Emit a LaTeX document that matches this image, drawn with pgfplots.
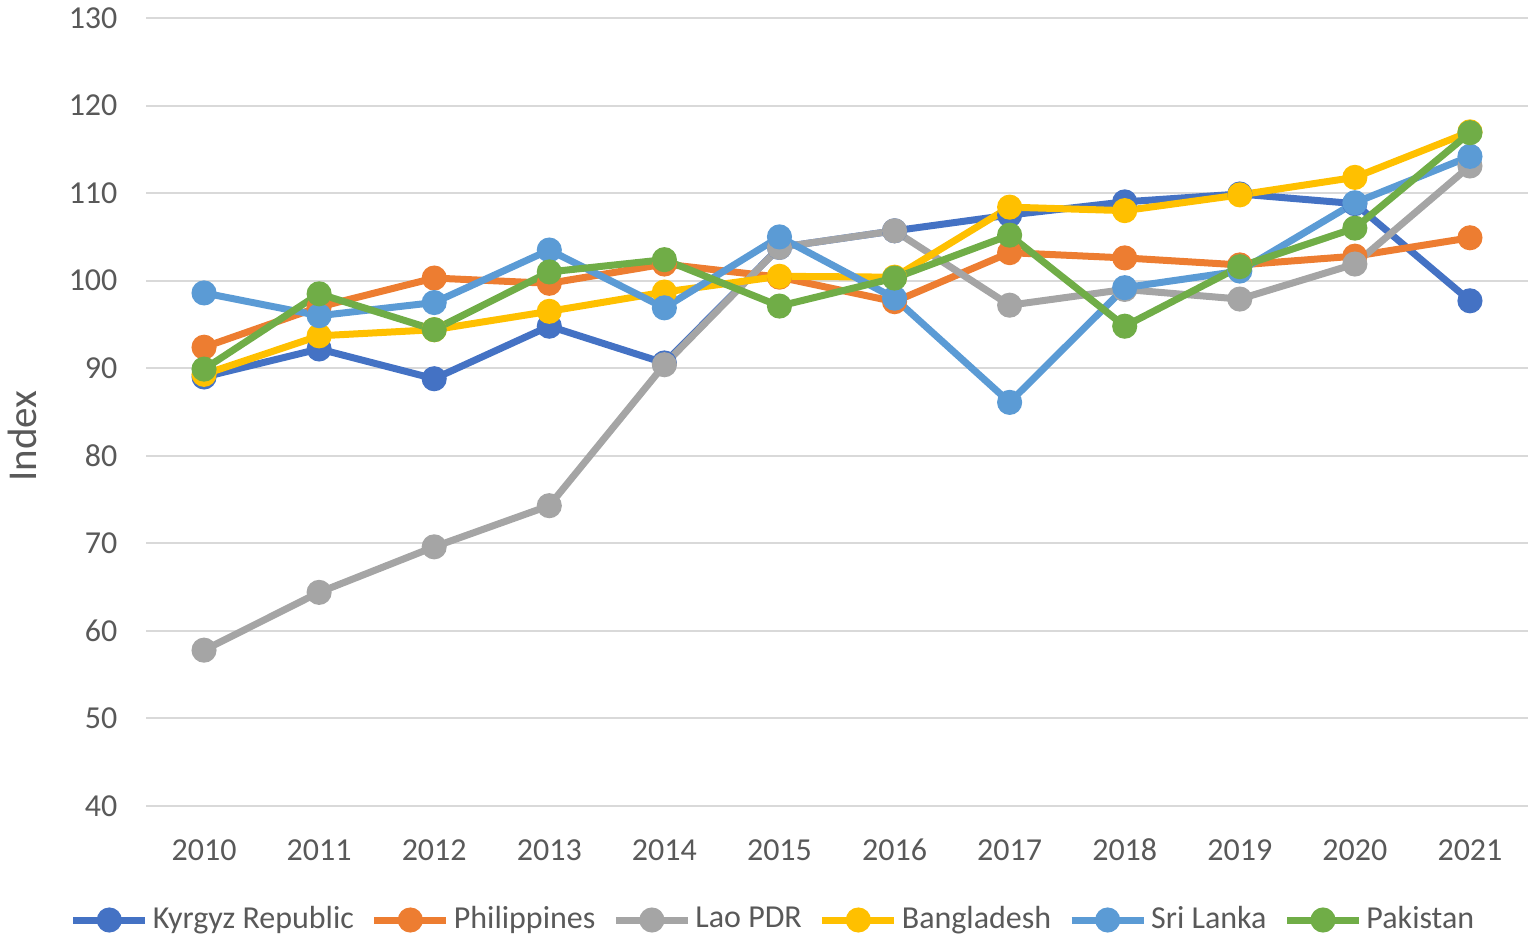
\documentclass[border=0pt]{standalone}
\usepackage{pgfplots}
\pgfplotsset{compat=1.18}
\usepackage{fontspec}
\setmainfont{Carlito}
\definecolor{cK}{HTML}{4472C4}
\definecolor{cP}{HTML}{ED7D31}
\definecolor{cL}{HTML}{A5A5A5}
\definecolor{cB}{HTML}{FFC000}
\definecolor{cS}{HTML}{5B9BD5}
\definecolor{cPk}{HTML}{70AD47}
\definecolor{txt}{HTML}{595959}
\definecolor{grid}{HTML}{D9D9D9}
\begin{document}
\fontsize{16bp}{19bp}\selectfont
\begin{tikzpicture}
\useasboundingbox (-73.25bp,-67bp) rectangle (694.75bp,403bp);
\begin{axis}[
  at={(0,0)}, anchor=south west,
  scale only axis, width=690.5bp, height=394bp,
  xmin=-0.5, xmax=11.5, ymin=40, ymax=130,
  xtick={0,...,11},
  xticklabels={2010,2011,2012,2013,2014,2015,2016,2017,2018,2019,2020,2021},
  ytick={40,50,...,130},
  axis line style={draw=none},
  major tick length=0pt,
  ymajorgrids, grid style={draw=grid, line width=1bp},
  ticklabel style={font=\fontsize{16bp}{19bp}\selectfont, text=txt},
  /pgf/number format/assume math mode=true,
  yticklabel style={xshift=-9bp},
  xticklabel style={yshift=-10.5bp, text height=11bp, text depth=0bp},
  ylabel={Index},
  every axis y label/.style={at={(axis description cs:0,0.5)}, xshift=-62bp, yshift=-12bp, rotate=90, anchor=center,
    font=\fontsize{20.5bp}{24bp}\selectfont, text=txt},
  clip=false,
  legend columns=6,
  legend style={draw=none, fill=none, at={(0.5,0)}, anchor=center, yshift=-57bp, xshift=-31.5bp,
    font=\fontsize{16bp}{19bp}\selectfont, text=txt,
    /tikz/every even column/.append style={column sep=6.5bp},
    cells={anchor=west}},
  legend image code/.code={\draw[mark repeat=2,mark phase=2] plot coordinates {(0bp,0bp) (18bp,0bp) (36bp,0bp)};},
  every axis plot/.append style={line width=3.5bp, mark=*, mark size=4.5bp, mark options={solid}},
]
\addplot[cK, mark options={fill=cK}] coordinates {(0,89.0)(1,92.2)(2,88.8)(3,94.8)(4,90.6)(5,103.8)(6,105.7)(7,107.5)(8,109.0)(9,109.9)(10,108.8)(11,97.7)};
\addlegendentry{Kyrgyz Republic}
\addplot[cP, mark options={fill=cP}] coordinates {(0,92.4)(1,97.0)(2,100.3)(3,99.7)(4,101.9)(5,100.4)(6,97.6)(7,103.2)(8,102.6)(9,101.8)(10,102.8)(11,104.9)};
\addlegendentry{Philippines}
\addplot[cL, mark options={fill=cL}] coordinates {(0,57.8)(1,64.4)(2,69.6)(3,74.3)(4,90.4)(5,103.8)(6,105.7)(7,97.2)(8,99.0)(9,97.9)(10,101.9)(11,113.1)};
\addlegendentry{Lao PDR}
\addplot[cB, mark options={fill=cB}] coordinates {(0,89.3)(1,93.7)(2,94.4)(3,96.5)(4,98.7)(5,100.5)(6,100.4)(7,108.4)(8,108.0)(9,109.8)(10,111.8)(11,117.0)};
\addlegendentry{Bangladesh}
\addplot[cS, mark options={fill=cS}] coordinates {(0,98.6)(1,96.0)(2,97.5)(3,103.5)(4,96.9)(5,105.0)(6,98.0)(7,86.1)(8,99.2)(9,101.1)(10,108.9)(11,114.2)};
\addlegendentry{Sri Lanka}
\addplot[cPk, mark options={fill=cPk}] coordinates {(0,89.9)(1,98.5)(2,94.4)(3,101.0)(4,102.4)(5,97.1)(6,100.3)(7,105.2)(8,94.8)(9,101.6)(10,106.0)(11,116.9)};
\addlegendentry{Pakistan}
\end{axis}
\end{tikzpicture}
\end{document}
